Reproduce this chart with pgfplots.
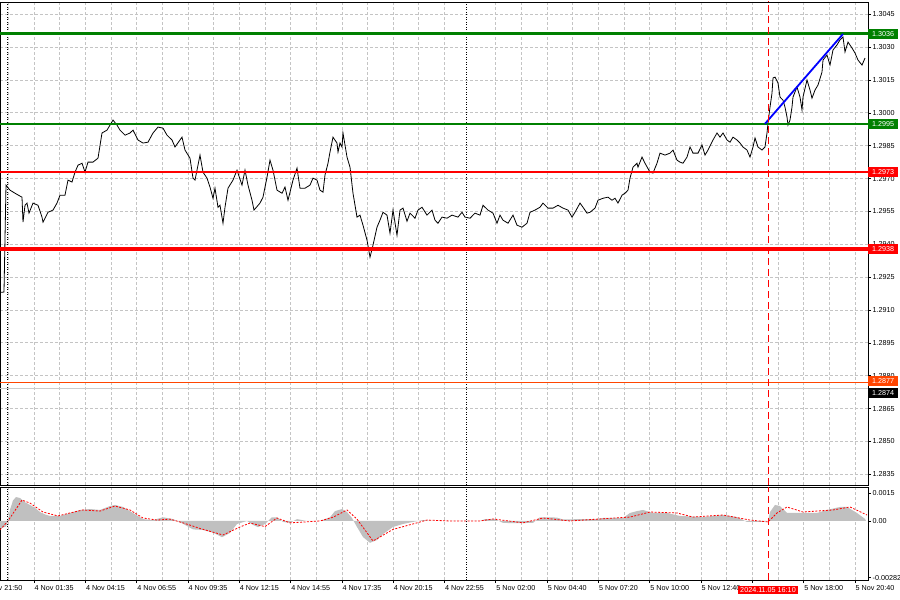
\documentclass[border=0pt]{standalone}
\usepackage{fontspec}
\setmainfont{Liberation Sans}
\usepackage{pgfplots}
\pgfplotsset{compat=1.18}

\definecolor{mtgreen}{RGB}{0,128,0}
\definecolor{mtred}{RGB}{255,0,0}
\definecolor{mtorange}{RGB}{255,69,0}
\definecolor{mtgrid}{RGB}{196,196,196}
\definecolor{mthist}{RGB}{192,192,192}
\definecolor{mtblue}{RGB}{0,0,255}

\begin{document}
\begin{tikzpicture}[font=\fontsize{7.2}{8}\selectfont]
\useasboundingbox (0pt,0pt) rectangle (900pt,600pt);

\pgfplotsset{
  mt/.style={
    scale only axis, width=868pt, xmin=0, xmax=868,
    anchor=south west,
    axis line style={black, line width=0.8pt},
    tick style={black, line width=0.6pt},
    major tick length=3pt, minor tick length=0pt,
    tick align=outside,
    ytick pos=right, yticklabel pos=right,
    xtick pos=bottom,
    scaled ticks=false,
    tick label style={font=\fontsize{7.2}{8}\selectfont},
    yticklabel style={anchor=west, inner sep=0pt, xshift=1.5pt},
    xtick={34.05,85.35,136.65,187.95,239.25,290.55,341.85,393.15,444.45,495.75,547.05,598.35,649.65,700.95,752.25,803.55,854.85},
    minor xtick={8.4,59.7,111.0,162.3,213.6,264.9,316.2,367.5,418.8,521.4,572.7,624.0,675.3,726.6,777.9,829.2},
    xmajorgrids, xminorgrids,
    grid style={mtgrid, dash pattern=on 3pt off 2pt, line width=0.7pt},
    minor grid style={mtgrid, dash pattern=on 3pt off 2pt, line width=0.7pt},
  },
  sep/.style={black, line width=0.8pt, dash pattern=on 1pt off 1.5pt},
  vred/.style={mtred, line width=1pt, dash pattern=on 7pt off 4pt},
}

% price panel
\begin{axis}[mt, at={(0pt,115pt)}, height=483pt,
  ymin=1.28301, ymax=1.30506,
  ytick={1.2835,1.2850,1.2865,1.2880,1.2895,1.2910,1.2925,1.2940,1.2955,1.2970,1.2985,1.3000,1.3015,1.3030,1.3045},
  yticklabels={1.2835,1.2850,1.2865,1.2880,1.2895,1.2910,1.2925,1.2940,1.2955,1.2970,1.2985,1.3000,1.3015,1.3030,1.3045},
  ymajorgrids,
  xticklabels={}, xtick style={draw=none}]

\addplot[sep] coordinates {(7,1.283) (7,1.3051)};
\addplot[sep] coordinates {(466,1.283) (466,1.3051)};

% close
\addplot[black, line width=0.8pt] coordinates {
(0,1.29180) (4,1.29182) (6,1.29670) (10,1.29647) (15,1.29633) (20,1.29620) (22,1.29615)
(23,1.29501) (25,1.29578) (27,1.29588) (29,1.29542) (33,1.29588) (38,1.29578) (42,1.29524)
(43,1.29501) (48,1.29546) (53,1.29556) (57,1.29588) (60,1.29624) (65,1.29624) (68,1.29693)
(72,1.29684) (75,1.29729) (78,1.29761) (82,1.29770) (85,1.29729) (88,1.29775) (93,1.29775)
(98,1.29793) (102,1.29908) (107,1.29921) (110,1.29944) (113,1.29967) (117,1.29944) (120,1.29921)
(125,1.29898) (130,1.29908) (133,1.29921) (138,1.29876) (143,1.29862) (148,1.29866) (153,1.29908)
(158,1.29935) (163,1.29930) (167,1.29898) (172,1.29876) (175,1.29844) (182,1.29889) (185,1.29830)
(190,1.29793) (193,1.29702) (195,1.29693) (200,1.29807) (203,1.29729) (207,1.29702) (210,1.29661)
(213,1.29610) (215,1.29656) (218,1.29569) (220,1.29578) (223,1.29496) (225,1.29569) (228,1.29656)
(233,1.29693) (237,1.29738) (242,1.29670) (245,1.29738) (248,1.29670) (252,1.29601) (254,1.29556)
(260,1.29588) (263,1.29615) (267,1.29706) (270,1.29784) (273,1.29738) (277,1.29647) (282,1.29633)
(285,1.29661) (288,1.29601) (293,1.29693) (297,1.29748) (300,1.29656) (305,1.29656) (310,1.29670)
(313,1.29702) (317,1.29693) (320,1.29647) (323,1.29638) (325,1.29716) (328,1.29770) (330,1.29821)
(333,1.29889) (337,1.29862) (338,1.29821) (340,1.29862) (342,1.29844) (343,1.29908) (347,1.29798)
(350,1.29752) (353,1.29633) (357,1.29524) (360,1.29533) (363,1.29487) (367,1.29419) (370,1.29341)
(373,1.29396) (377,1.29478) (380,1.29510) (383,1.29546) (387,1.29533) (390,1.29451) (393,1.29556)
(397,1.29441) (400,1.29556) (403,1.29565) (407,1.29505) (410,1.29542) (415,1.29519) (418,1.29556)
(422,1.29569) (427,1.29533) (432,1.29556) (435,1.29510) (438,1.29496) (442,1.29524) (447,1.29519)
(452,1.29533) (458,1.29524) (462,1.29546) (465,1.29524) (470,1.29519) (475,1.29542) (480,1.29533)
(483,1.29578) (488,1.29556) (493,1.29542) (497,1.29496) (500,1.29533) (503,1.29510) (508,1.29496)
(513,1.29533) (517,1.29487) (522,1.29478) (527,1.29496) (530,1.29546) (535,1.29556) (540,1.29569)
(543,1.29588) (548,1.29565) (553,1.29565) (558,1.29578) (563,1.29565) (568,1.29556) (572,1.29524)
(575,1.29546) (580,1.29588) (583,1.29569) (587,1.29542) (590,1.29546) (595,1.29565) (598,1.29601)
(603,1.29610) (608,1.29615) (612,1.29601) (615,1.29610) (618,1.29588) (622,1.29624) (625,1.29633)
(628,1.29647) (630,1.29702) (633,1.29752) (637,1.29770) (638,1.29752) (642,1.29798) (645,1.29770)
(650,1.29729) (653,1.29725) (657,1.29770) (660,1.29816) (665,1.29807) (670,1.29816) (673,1.29830)
(677,1.29784) (680,1.29775) (683,1.29770) (687,1.29798) (690,1.29844) (693,1.29816) (698,1.29816)
(702,1.29853) (705,1.29807) (708,1.29830) (713,1.29876) (717,1.29908) (720,1.29889) (723,1.29908)
(727,1.29876) (730,1.29866) (733,1.29889) (737,1.29876) (740,1.29862) (743,1.29844) (747,1.29830)
(750,1.29798) (753,1.29844) (755,1.29885) (758,1.29844) (762,1.29830) (765,1.29844) (767,1.29908)
(768,1.29953) (770,1.30026) (772,1.30090) (773,1.30159) (775,1.30163) (778,1.30136) (780,1.30072)
(783,1.30058) (785,1.30026) (787,1.29981) (788,1.29944) (790,1.29967) (792,1.30026) (793,1.30072)
(797,1.30118) (800,1.30072) (802,1.30013) (803,1.30072) (807,1.30150) (810,1.30104) (812,1.30067)
(815,1.30104) (818,1.30127) (822,1.30186) (823,1.30241) (827,1.30264) (830,1.30218) (833,1.30287)
(837,1.30310) (840,1.30333) (843,1.30346) (845,1.30278) (848,1.30323) (852,1.30296) (855,1.30273)
(858,1.30241) (862,1.30218) (865,1.30250)
};

% levels
\addplot[mtgreen, line width=3pt] coordinates {(0,1.3036) (868,1.3036)};
\addplot[mtgreen, line width=1.8pt] coordinates {(0,1.2995) (868,1.2995)};
\addplot[mtred, line width=1.4pt] coordinates {(0,1.2973) (868,1.2973)};
\addplot[mtred, line width=4pt] coordinates {(0,1.2938) (868,1.2938)};
\addplot[mtorange, line width=1pt] coordinates {(0,1.2877) (868,1.2877)};
\addplot[gray!40, line width=1pt] coordinates {(0,1.2874) (868,1.2874)};

% trend segment
\addplot[mtblue, line width=1.8pt] coordinates {(765,1.2995) (843,1.3036)};

\addplot[vred] coordinates {(768,1.283) (768,1.3051)};

\coordinate (l3036) at (axis cs:868,1.3036);
\coordinate (l2995) at (axis cs:868,1.2995);
\coordinate (l2973) at (axis cs:868,1.2973);
\coordinate (l2938) at (axis cs:868,1.2938);
\coordinate (l2877) at (axis cs:868,1.2877);
\coordinate (l2874) at (axis cs:868,1.2874);
\end{axis}

% MACD panel
\begin{axis}[mt, at={(0pt,20pt)}, height=93pt,
  ymin=-0.00316, ymax=0.00182,
  ytick={-0.00304,0,0.0015}, yticklabels={-0.00282,0.00,0.0015},
  xticklabels={4 Nov 01:35,4 Nov 04:15,4 Nov 06:55,4 Nov 09:35,4 Nov 12:15,4 Nov 14:55,4 Nov 17:35,4 Nov 20:15,4 Nov 22:55,5 Nov 02:00,5 Nov 04:40,5 Nov 07:20,5 Nov 10:00,5 Nov 12:40,{},5 Nov 18:00,5 Nov 20:40},
  xticklabel style={anchor=north west, inner sep=0pt, xshift=0.5pt, yshift=-2pt}]

\addplot[fill=mthist, draw=none] coordinates {
(0,0) (0,-0.0004) (6,-0.0003) (8,0) (10,0.0006) (13,0.0011) (16,0.00128) (20,0.00123)
(25,0.001) (30,0.00086) (35,0.0007) (40,0.00048) (45,0.00035) (50,0.00027) (60,0.00027)
(70,0.00043) (80,0.00059) (90,0.00064) (100,0.00059) (110,0.0008) (115,0.00086) (123,0.00075)
(133,0.00043) (143,0.0001) (153,0.00005) (163,0.0002) (173,0.0001) (183,-0.00015) (193,-0.00045)
(203,-0.00048) (213,-0.00063) (222,-0.00087) (230,-0.00064) (237,-0.00016) (247,0) (253,-0.00021)
(258,-0.00033) (265,-0.00016) (272,0.0002) (277,0.0002) (283,-0.00005) (290,-0.0001) (297,0.0001)
(307,0) (320,0) (330,0.0002) (335,0.00053) (342,0.00064) (347,0.00048) (352,0.00016) (357,-0.00032)
(363,-0.00086) (370,-0.00117) (377,-0.00102) (383,-0.0007) (393,-0.00032) (403,-0.00016) (413,-0.00005)
(423,0.00005) (433,0) (480,0) (485,0.0001) (495,0.0001) (503,-0.0001) (515,-0.00012) (533,-0.0001)
(540,0.0002) (550,0.0002) (557,0.00018) (563,0.00008) (580,0.0001) (597,0.0001) (603,0.00016)
(623,0.00016) (630,0.00043) (637,0.00053) (643,0.00059) (653,0.00043) (667,0.00043) (680,0.00027)
(703,0.00021) (723,0.00032) (737,0.00021) (747,-0.00005) (763,-0.00005) (768,0) (770,0.00048)
(775,0.00086) (780,0.0008) (787,0.00043) (793,0.00043) (803,0.00043) (817,0.00043) (827,0.00059)
(840,0.00075) (847,0.00075) (857,0.00043) (865,0.00011) (866,0)
} -- cycle;

\addplot[mtred, line width=0.8pt, dash pattern=on 2pt off 1.5pt] coordinates {
(0,-0.00048) (8,0) (22,0.00112) (30,0.00096) (43,0.00048) (58,0.00027) (70,0.00043) (83,0.00059)
(100,0.00053) (115,0.0008) (130,0.00059) (143,0.00016) (157,0.00005) (170,0.0001) (183,-0.0001)
(200,-0.0004) (223,-0.00075) (240,-0.00032) (250,-0.00011) (265,-0.0003) (277,0.00016) (290,-0.0001)
(320,0) (333,0.0002) (347,0.00059) (357,0.0001) (373,-0.00107) (393,-0.00045) (417,-0.0001)
(427,0.00005) (450,0) (480,0) (493,0.00011) (523,-0.0001) (543,0.00016) (570,0) (600,0.00011)
(630,0.00021) (650,0.00048) (677,0.00043) (693,0.00021) (723,0.00032) (750,0.00005) (768,-0.00005)
(777,0.00043) (787,0.00075) (803,0.00048) (833,0.00059) (850,0.00075) (867,0.00032)
};

\addplot[sep] coordinates {(7,-0.00316) (7,0.00182)};
\addplot[sep] coordinates {(466,-0.00316) (466,0.00182)};
\addplot[vred] coordinates {(768,-0.00316) (768,0.00182)};

\coordinate (dlab) at (axis cs:768,-0.00316);
\coordinate (x0) at (axis cs:-17.25,-0.00316);
\end{axis}

% price tags on the right scale
\tikzset{tag/.style={anchor=west, fill=#1, text=white, inner xsep=1.5pt, inner ysep=1pt,
  minimum height=10pt, minimum width=30pt, font=\fontsize{7.2}{8}\selectfont}}
\node[tag=mtgreen] at (l3036) {1.3036};
\node[tag=mtgreen] at (l2995) {1.2995};
\node[tag=mtred] at (l2973) {1.2973};
\node[tag=mtred] at (l2938) {1.2938};
\node[tag=mtorange] at ([yshift=1pt]l2877) {1.2877};
\node[tag=black] at ([yshift=-4pt]l2874) {1.2874};

\node[fill=mtred, text=white, inner xsep=2.5pt, inner ysep=1.5pt, font=\fontsize{7.2}{8}\selectfont]
  at ([yshift=-10pt]dlab) {2024.11.05 16:10};
\node[anchor=north west, inner sep=0pt] at ([xshift=0.5pt,yshift=-5pt]x0) {3 Nov 21:50};
\end{tikzpicture}
\end{document}
